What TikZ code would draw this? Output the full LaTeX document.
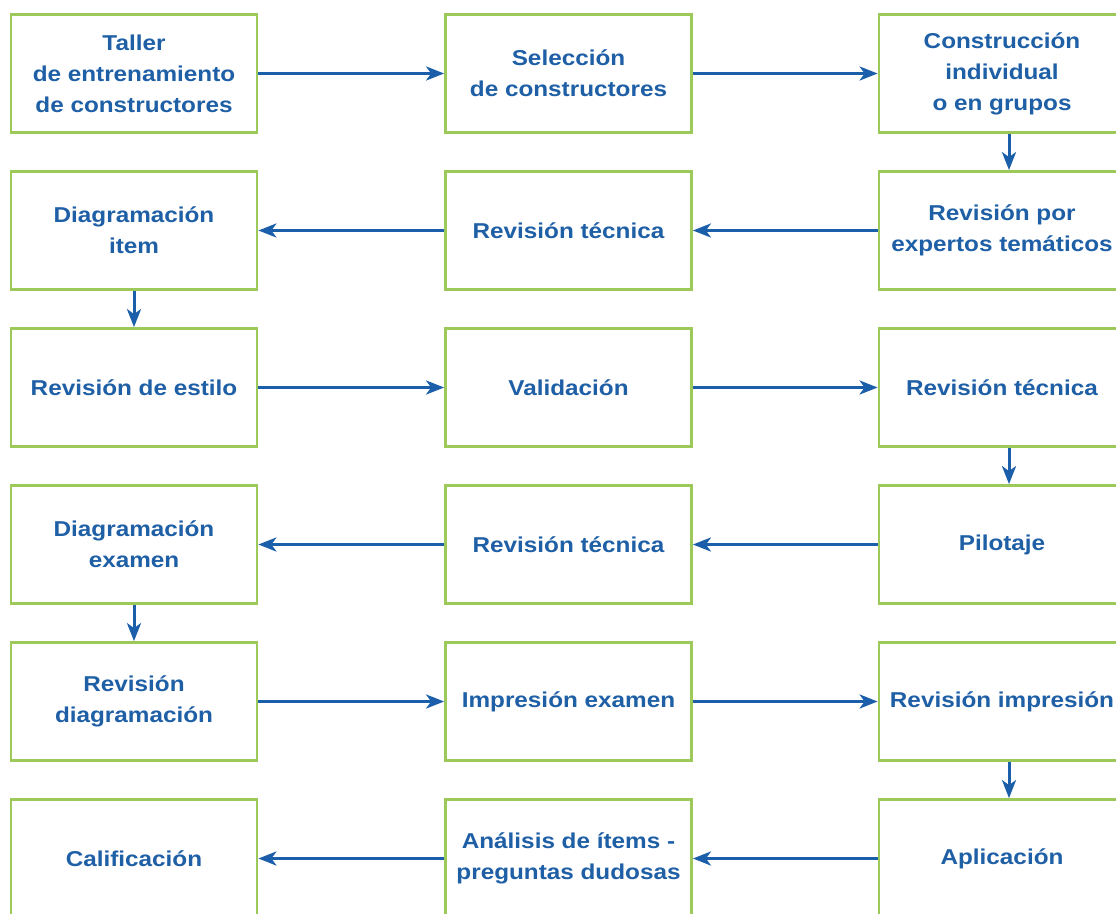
\documentclass[tikz,border=0pt]{standalone}
\usepackage{fontspec}
\setmainfont[FakeStretch=1.13]{Liberation Sans}
\usetikzlibrary{arrows.meta}
\definecolor{boxgreen}{HTML}{9CC95A}
\definecolor{textblue}{HTML}{1E5FA6}
\definecolor{arrowblue}{HTML}{1B5EA9}
\tikzset{
  stepbox/.style={draw=boxgreen, line width=2.8pt, fill=white, minimum width=246pt, minimum height=118pt,
    inner sep=0pt, text=textblue, align=center, font=\fontsize{21.5}{31}\selectfont\bfseries},
  flow/.style={draw=arrowblue, line width=3pt, -{Stealth[length=18pt,width=14pt,inset=5pt]}}
}
\begin{document}
\begin{tikzpicture}[x=1pt,y=-1pt]
\useasboundingbox (0,0) rectangle (1116,913);
\clip (0,0) rectangle (1116,913);
% row 1
\node[stepbox] (a1) at (134,73.5) {Taller\\de entrenamiento\\de constructores};
\node[stepbox] (b1) at (568.5,73.5) {Selección\\de constructores};
\node[stepbox] (c1) at (1002,73.5) {Construcción\\individual\\o en grupos};
% row 2
\node[stepbox] (a2) at (134,230.5) {Diagramación\\item};
\node[stepbox] (b2) at (568.5,230.5) {Revisión técnica};
\node[stepbox] (c2) at (1002,230.5) {Revisión por\\expertos temáticos};
% row 3
\node[stepbox] (a3) at (134,387.5) {Revisión de estilo};
\node[stepbox] (b3) at (568.5,387.5) {Validación};
\node[stepbox] (c3) at (1002,387.5) {Revisión técnica};
% row 4
\node[stepbox] (a4) at (134,544.5) {Diagramación\\examen};
\node[stepbox] (b4) at (568.5,544.5) {Revisión técnica};
\node[stepbox] (c4) at (1002,544.5) {Pilotaje};
% row 5
\node[stepbox] (a5) at (134,701.5) {Revisión\\diagramación};
\node[stepbox] (b5) at (568.5,701.5) {Impresión examen};
\node[stepbox] (c5) at (1002,701.5) {Revisión impresión};
% row 6
\node[stepbox] (a6) at (134,858.5) {Calificación};
\node[stepbox] (b6) at (568.5,858.5) {Análisis de ítems -\\preguntas dudosas};
\node[stepbox] (c6) at (1002,858.5) {Aplicación};
% connectors
\draw[flow] (a1) -- (b1);
\draw[flow] (b1) -- (c1);
\draw[flow] ([xshift=7pt]c1.south) -- ([xshift=7pt]c2.north);
\draw[flow] (c2) -- (b2);
\draw[flow] (b2) -- (a2);
\draw[flow] (a2) -- (a3);
\draw[flow] (a3) -- (b3);
\draw[flow] (b3) -- (c3);
\draw[flow] ([xshift=7pt]c3.south) -- ([xshift=7pt]c4.north);
\draw[flow] (c4) -- (b4);
\draw[flow] (b4) -- (a4);
\draw[flow] (a4) -- (a5);
\draw[flow] (a5) -- (b5);
\draw[flow] (b5) -- (c5);
\draw[flow] ([xshift=7pt]c5.south) -- ([xshift=7pt]c6.north);
\draw[flow] (c6) -- (b6);
\draw[flow] (b6) -- (a6);
\end{tikzpicture}
\end{document}
